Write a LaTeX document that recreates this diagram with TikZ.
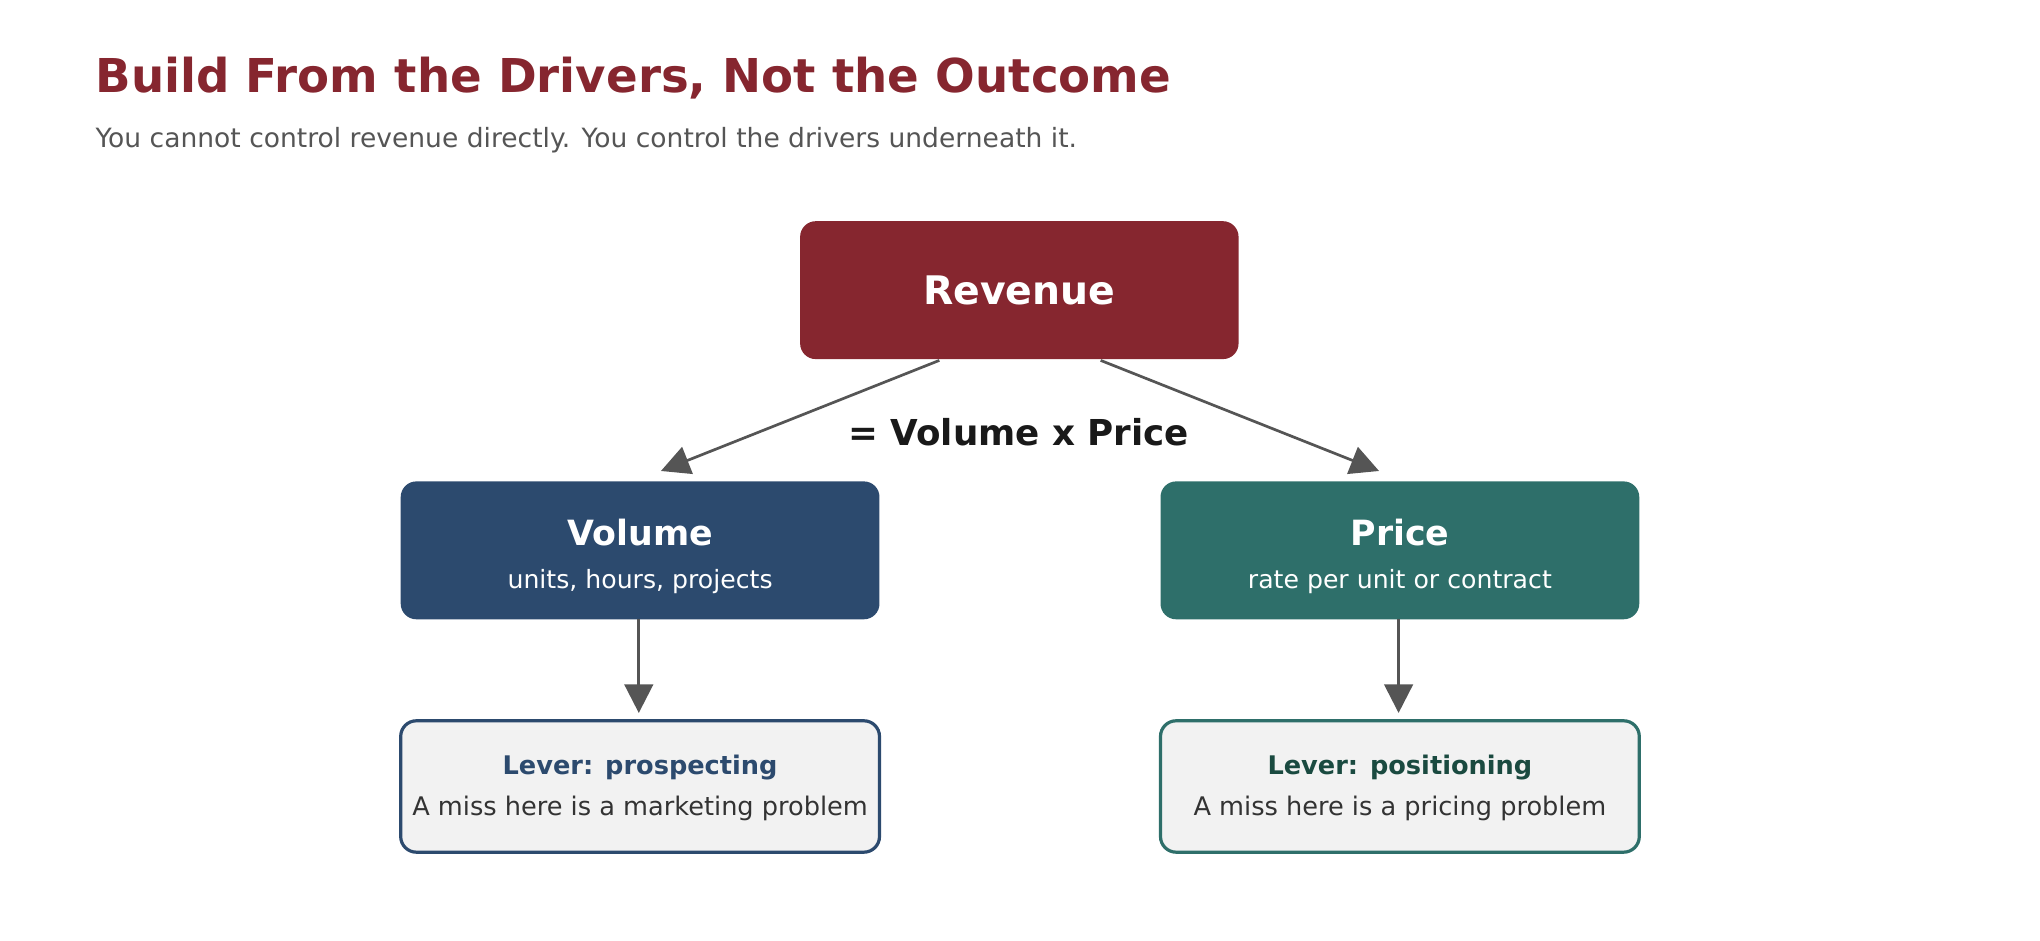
\documentclass[tikz,border=0pt]{standalone}
\usepackage{fontspec}
\setmainfont{DejaVu Sans}
\usetikzlibrary{arrows.meta,calc}
\definecolor{cred}{HTML}{86262F}
\definecolor{cblue}{HTML}{2C4A6E}
\definecolor{cteal}{HTML}{2E6F6A}
\definecolor{cdteal}{HTML}{1A4A40}
\definecolor{cgrey}{HTML}{555555}
\definecolor{clever}{HTML}{F2F2F2}
\begin{document}
\begin{tikzpicture}[x=0.01cm,y=-0.01cm,
 box/.style={rounded corners=12*0.01cm,inner sep=0pt},
 arr/.style={draw=cgrey,line width=1.6pt*0.37,-{Triangle[length=22*0.01cm,width=22*0.01cm]}},
 lever/.style={fill=clever,line width=0.7pt,rounded corners=12*0.01cm}]
\useasboundingbox (0,0) rectangle (1568,723);
\node[anchor=base west,text=cred,font=\fontsize{10.2}{12}\selectfont\bfseries] (title) at (61,71) {Build From the Drivers, Not the Outcome};
\node[anchor=base west,text=cgrey,font=\fontsize{5.8}{7}\selectfont] (sub) at (61,113) {You cannot control revenue directly. You control the drivers underneath it.};
\fill[cred,rounded corners=0.12cm] (615,170) rectangle (952,276);
\node[text=white,font=\fontsize{8.6}{10}\selectfont\bfseries] (rev) at (783.5,223) {Revenue};
\coordinate (revL) at (722,277);
\coordinate (revR) at (846,277);
\fill[cblue,rounded corners=0.12cm] (308,370) rectangle (676,476);
\node[text=white,font=\fontsize{7.6}{9}\selectfont\bfseries] (vol) at (492,409) {Volume};
\node[text=white,font=\fontsize{5.5}{7}\selectfont] (vols) at (492,447) {units, hours, projects};
\fill[cteal,rounded corners=0.12cm] (892,370) rectangle (1260,476);
\node[text=white,font=\fontsize{7.6}{9}\selectfont\bfseries] (pri) at (1076,409) {Price};
\node[text=white,font=\fontsize{5.5}{7}\selectfont] (pris) at (1076,447) {rate per unit or contract};
\node[font=\fontsize{7.8}{9}\selectfont\bfseries,text=black!90] (eq) at (783,332) {= Volume x Price};
\draw[lever,draw=cblue] (308,554) rectangle (676,655);
\node[text=cblue,font=\fontsize{5.6}{7}\selectfont\bfseries] (lv1) at (492,590) {Lever: prospecting};
\node[text=black!80,font=\fontsize{5.6}{7}\selectfont] (lv1s) at (492,621) {A miss here is a marketing problem};
\draw[lever,draw=cteal] (892,554) rectangle (1260,655);
\node[text=cdteal,font=\fontsize{5.6}{7}\selectfont\bfseries] (lv2) at (1076,590) {Lever: positioning};
\node[text=black!80,font=\fontsize{5.6}{7}\selectfont] (lv2s) at (1076,621) {A miss here is a pricing problem};
\coordinate (volT) at (508,362);
\coordinate (priT) at (1060,362);
\coordinate (volB) at (491,476);
\coordinate (priB) at (1075,476);
\coordinate (lv1T) at (491,548);
\coordinate (lv2T) at (1075,548);
\draw[arr] (revL) -- (volT);
\draw[arr] (revR) -- (priT);
\draw[arr] (volB) -- (lv1T);
\draw[arr] (priB) -- (lv2T);
\end{tikzpicture}
\end{document}
